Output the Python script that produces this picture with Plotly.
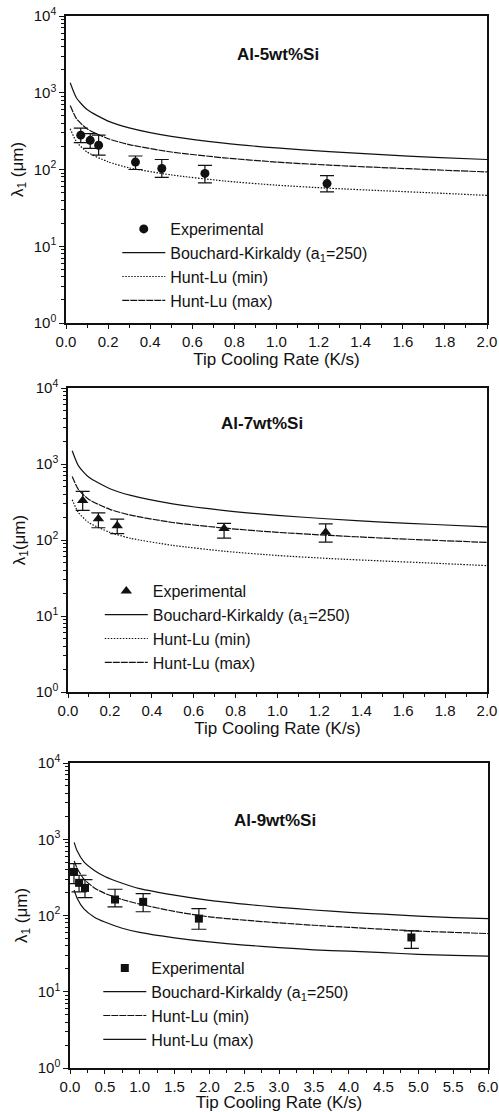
import plotly.graph_objects as go

# ---------------- data ----------------
# Panel 1: Al-5wt%Si
p1_exp_x = [0.07, 0.115, 0.155, 0.33, 0.455, 0.66, 1.24]
p1_exp_y = [280, 240, 207, 125, 103, 89, 65.5]
p1_exp_hi = [346, 294, 280, 150, 135, 113, 83]
p1_exp_lo = [224, 189, 154, 100, 79, 67, 51]
p1_cx = [0.02, 0.05, 0.1, 0.2, 0.3, 0.5, 0.75, 1.0, 1.25, 1.5, 1.75, 2.0]
p1_bk = [1350, 854, 604, 427, 349, 270, 220, 191, 171, 156, 144, 135]
p1_hl_min = [340, 229, 169, 126, 105, 85, 71, 62.5, 57, 53, 49.5, 46]
p1_hl_max = [680, 458, 339, 252, 211, 169, 142, 125, 114, 106, 99, 93]

# Panel 2: Al-7wt%Si
p2_exp_x = [0.07, 0.145, 0.235, 0.745, 1.23]
p2_exp_y = [332, 190, 154, 142, 126]
p2_exp_hi = [436, 227, 188, 165, 163]
p2_exp_lo = [246, 145, 121, 106, 94]
p2_cx = [0.02, 0.05, 0.1, 0.2, 0.3, 0.5, 0.75, 1.0, 1.25, 1.5, 1.75, 2.0]
p2_bk = [1493, 944, 668, 472, 386, 299, 244, 211, 189, 172, 160, 149]
p2_hl_min = [339, 229, 169, 126, 105, 85, 71, 62.5, 57, 53, 49.5, 46]
p2_hl_max = [684, 460, 341, 253, 212, 170, 143, 126, 115, 106, 99, 93]

# Panel 3: Al-9wt%Si
p3_exp_x = [0.057, 0.13, 0.215, 0.646, 1.05, 1.85, 4.9]
p3_exp_y = [373, 268, 230, 162, 151, 91, 51.5]
p3_exp_hi = [480, 337, 296, 221, 194, 123, 63]
p3_exp_lo = [262, 204, 172, 130, 112, 66, 37]
p3_cx = [0.06, 0.1, 0.2, 0.35, 0.5, 0.75, 1.0, 1.5, 2.0, 2.5, 3.0, 3.5, 4.0, 4.5, 5.0, 5.5, 6.0]
p3_bk = [910, 710, 505, 390, 325, 265, 225, 185, 158, 141, 128, 118, 110, 104, 98, 94, 91]
p3_hl_min = [520, 420, 300, 230, 195, 162, 141, 113, 96, 87, 80, 74.5, 70, 66, 62.5, 60, 58]
p3_hl_max = [215, 170, 122, 95, 82, 68, 60, 51, 45, 41, 38, 35.5, 34, 32.5, 31, 30, 29.3]

legend_names = ["Experimental", "Bouchard-Kirkaldy (a<sub>1</sub>=250)", "Hunt-Lu (min)", "Hunt-Lu (max)"]
panel_titles = ["Al-5wt%Si", "Al-7wt%Si", "Al-9wt%Si"]
x_title = "Tip Cooling Rate (K/s)"
y_titles = ["λ<sub>1</sub> (μm)", "λ<sub>1</sub>(μm)", "λ<sub>1</sub> (μm)"]
y_tickvals = [1, 10, 100, 1000, 10000]
y_ticktext = ["10<sup>0</sup>", "10<sup>1</sup>", "10<sup>2</sup>", "10<sup>3</sup>", "10<sup>4</sup>"]

# ---------------- style ----------------
FONT = "Liberation Sans, Arial, Helvetica, sans-serif"
INK = "#111111"
LW = 1.2
DASH = {"dot": "1.5px,1.5px", "dash": "7px,1px", "solid": "solid"}

panels = [
    dict(ex=p1_exp_x, ey=p1_exp_y, hi=p1_exp_hi, lo=p1_exp_lo, cx=p1_cx,
         bk=p1_bk, hmin=p1_hl_min, hmax=p1_hl_max, symbol="circle", msize=9,
         dmin="dot", dmax="dash", xr=[0, 2], dtick=0.2, minor=0.1,
         xdom=[66/499, 487/499], ydom=[1-323/1112, 1-16/1112], errw=7,
         leg=dict(x=0.235, y=1-212/1112), title_xy=(0.504, 0.873)),
    dict(ex=p2_exp_x, ey=p2_exp_y, hi=p2_exp_hi, lo=p2_exp_lo, cx=p2_cx,
         bk=p2_bk, hmin=p2_hl_min, hmax=p2_hl_max, symbol="triangle-up", msize=10,
         dmin="dot", dmax="dash", xr=[0, 2], dtick=0.2, minor=0.1,
         xdom=[68/499, 487/499], ydom=[1-692/1112, 1-388/1112], errw=7,
         leg=dict(x=0.2, y=1-574/1112), title_xy=(0.463, 0.882)),
    dict(ex=p3_exp_x, ey=p3_exp_y, hi=p3_exp_hi, lo=p3_exp_lo, cx=p3_cx,
         bk=p3_bk, hmin=p3_hl_min, hmax=p3_hl_max, symbol="square", msize=8,
         dmin="dash", dmax="solid", xr=[0, 6], dtick=0.5, minor=0.25,
         xdom=[70/499, 488/499], ydom=[1-1068/1112, 1-763/1112], errw=7.5,
         leg=dict(x=0.197, y=1-951/1112), title_xy=(0.49, 0.813)),
]

fig = go.Figure()
minor_log = [m * 10**e for e in range(0, 4) for m in range(2, 10)]

for i, p in enumerate(panels):
    n = i + 1
    xa = "x" if n == 1 else f"x{n}"
    ya = "y" if n == 1 else f"y{n}"
    leg = "legend" if n == 1 else f"legend{n}"
    hi_d = [h - y for h, y in zip(p["hi"], p["ey"])]
    lo_d = [y - l for y, l in zip(p["ey"], p["lo"])]
    fig.add_trace(go.Scatter(
        x=p["ex"], y=p["ey"], mode="markers", name=legend_names[0],
        marker=dict(symbol=p["symbol"], size=p["msize"], color=INK),
        error_y=dict(type="data", array=hi_d, arrayminus=lo_d, symmetric=False,
                     color=INK, thickness=1.2, width=p["errw"]),
        xaxis=xa, yaxis=ya, legend=leg))
    fig.add_trace(go.Scatter(
        x=p["cx"], y=p["bk"], mode="lines", name=legend_names[1],
        line=dict(color=INK, width=LW, shape="spline", smoothing=0.6),
        xaxis=xa, yaxis=ya, legend=leg))
    fig.add_trace(go.Scatter(
        x=p["cx"], y=p["hmin"], mode="lines", name=legend_names[2],
        line=dict(color=INK, width=LW, dash=DASH[p["dmin"]], shape="spline", smoothing=0.6),
        xaxis=xa, yaxis=ya, legend=leg))
    fig.add_trace(go.Scatter(
        x=p["cx"], y=p["hmax"], mode="lines", name=legend_names[3],
        line=dict(color=INK, width=LW, dash=DASH[p["dmax"]], shape="spline", smoothing=0.6),
        xaxis=xa, yaxis=ya, legend=leg))

    xkey = "xaxis" if n == 1 else f"xaxis{n}"
    ykey = "yaxis" if n == 1 else f"yaxis{n}"
    fig.update_layout({
        xkey: dict(domain=p["xdom"], anchor=ya, range=p["xr"], dtick=p["dtick"], tick0=0,
                   tickformat=".1f", ticks="outside", ticklen=4, tickwidth=1.2,
                   tickcolor=INK, showline=True, linecolor=INK, linewidth=1.5,
                   mirror=True, showgrid=False, zeroline=False, automargin=False,
                   ticklabeloverflow="allow",
                   tickfont=dict(family=FONT, size=15, color=INK),
                   minor=dict(dtick=p["minor"], ticks="outside", ticklen=3,
                              tickcolor=INK, showgrid=False),
                   title=dict(text=x_title, font=dict(family=FONT, size=17, color=INK),
                              standoff=3)),
        ykey: dict(domain=p["ydom"], anchor=xa, type="log", range=[0, 4],
                   tickmode="array", tickvals=y_tickvals, ticktext=y_ticktext,
                   ticks="outside", ticklen=5, tickwidth=1.2, tickcolor=INK,
                   showline=True, linecolor=INK, linewidth=1.5, mirror=True,
                   showgrid=False, zeroline=False, automargin=False,
                   ticklabeloverflow="allow",
                   tickfont=dict(family=FONT, size=15, color=INK),
                   minor=dict(tickmode="array", tickvals=minor_log, ticks="outside",
                              ticklen=3, tickcolor=INK, showgrid=False),
                   title=dict(text=y_titles[i], font=dict(family=FONT, size=17, color=INK),
                              standoff=6)),
        leg: dict(x=p["leg"]["x"], y=p["leg"]["y"], xanchor="left", yanchor="top",
                  bgcolor="rgba(0,0,0,0)", itemwidth=43,
                  font=dict(family=FONT, size=16, color=INK), tracegroupgap=0),
    })
    fig.add_annotation(
        text=f"<b>{panel_titles[i]}</b>", xref=f"{xa} domain", yref=f"{ya} domain",
        x=p["title_xy"][0], y=p["title_xy"][1], xanchor="center", yanchor="middle",
        showarrow=False, font=dict(family=FONT, size=17, color=INK))

fig.update_layout(
    width=499, height=1112, margin=dict(l=0, r=0, t=0, b=0),
    paper_bgcolor="white", plot_bgcolor="white", showlegend=True,
)

fig.write_html("out.html")
